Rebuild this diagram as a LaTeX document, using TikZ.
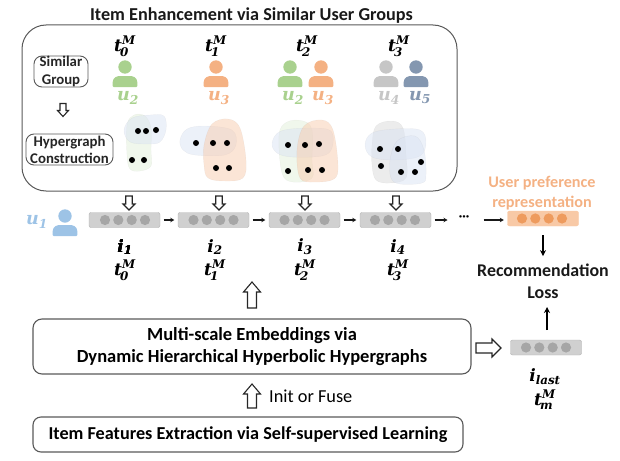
\documentclass[tikz,border=0pt]{standalone}
\usepackage{amsmath}
\usepackage{fontspec}
\setmainfont{Carlito}
\newfontfamily\mi[BoldItalicFont={DejaVu Serif Bold Italic}]{DejaVu Serif}
\usetikzlibrary{arrows.meta}
\definecolor{cgreen}{HTML}{A9D18E}
\definecolor{corange}{HTML}{F4B183}
\definecolor{cgray}{HTML}{C6C6C6}
\definecolor{cslate}{HTML}{8497B0}
\definecolor{clblue}{HTML}{9DC3E6}
\definecolor{bfill}{HTML}{D0D0D0}
\definecolor{bdot}{HTML}{A6A6A6}
\definecolor{frameg}{HTML}{595959}
\definecolor{blobg}{HTML}{E2F0D9}
\definecolor{blobb}{HTML}{DAE3F3}
\definecolor{bloboo}{HTML}{F8CBAD}
\definecolor{blobk}{HTML}{D9D9D9}
\definecolor{obarfill}{HTML}{F8C9A6}
\definecolor{obead}{HTML}{EE9B5E}
\tikzset{
 x=1pt,y=-1pt,
 frame/.style={draw=frameg,line width=0.9pt,rounded corners=#1,inner sep=0pt},
 frame/.default=8pt,
 tag/.style={font=\fontsize{14.8}{15}\selectfont\bfseries,align=center,text=black!85},
 head/.style={font=\fontsize{18.2}{21}\selectfont\bfseries,align=center,text=black!90},
 sym/.style={font=\fontsize{17}{17}\selectfont,inner sep=0pt},
 usr/.style={font=\fontsize{17.5}{17.5}\selectfont,inner sep=0pt},
 barbox/.style={draw=bfill!85!black,line width=0.4pt,fill=bfill,rounded corners=2pt,minimum width=71pt,minimum height=15pt,inner sep=0pt},
 obar/.style={barbox,draw=obarfill,fill=obarfill},
 hollow/.style={draw=black!85,line width=1.1pt,fill=white,line join=miter},
 thin arr/.style={-{Stealth[length=4pt,width=4.5pt]},line width=1.1pt,black!90,shorten >=3.5pt,shorten <=3.5pt},
 thick arr/.style={-{Stealth[length=6pt,width=6pt]},line width=1.4pt,black},
 dot/.style={circle,fill=black,minimum size=6pt,inner sep=0pt},
 gblob/.style={fill=#1,fill opacity=0.5,draw=black,draw opacity=0.04,line width=0.4pt},
}
\newcommand{\person}[3]{%
 \fill[#3] (#1,#2-10) circle[radius=6.7pt];
 \fill[#3,rounded corners=1pt] (#1-12.3,#2+10) -- (#1-12.3,#2+6) .. controls (#1-12.3,#2) and (#1-7,#2-1) .. (#1-4,#2-1) -- (#1+4,#2-1) .. controls (#1+7,#2-1) and (#1+12.3,#2) .. (#1+12.3,#2+6) -- (#1+12.3,#2+10) -- cycle;
}
\newcommand{\beads}[3]{%
 \foreach \dx in {-20,-6.7,6.7,20} \fill[#3] (#1+\dx,#2) circle[radius=5.1pt];
}
% hollow block arrow: centre x, y, angle, length, shaft width, head width, head length
\newcommand{\hollowarrow}[7]{%
 \draw[hollow,shift={(#1,#2)},rotate=#3]
  (-#4/2,-#5/2) -- (#4/2-#7,-#5/2) -- (#4/2-#7,-#6/2) -- (#4/2,0) -- (#4/2-#7,#6/2) -- (#4/2-#7,#5/2) -- (-#4/2,#5/2) -- cycle;
}
\newcommand{\bi}[1]{\text{\mi\bfseries\itshape #1}}
\newcommand{\um}[3]{$\bi{#1}_{\!\bi{#2}}^{\bi{#3}}$}
\newcommand{\us}[2]{$\bi{#1}_{\bi{#2}}$}
\begin{document}
\begin{tikzpicture}
\useasboundingbox (0,0) rectangle (620,460);
% title and top frame
\node[head] (title) at (251.5,16) {Item Enhancement via Similar User Groups};
\draw[frameg,line width=1pt,rounded corners=24pt] (22,25) rectangle (457,191);
\node[frame,tag,minimum width=54pt,minimum height=31pt] (sg) at (61,71.5) {Similar\\[3pt]Group};
\node[frame,tag,minimum width=87pt,minimum height=31pt] (hc) at (69.5,149.5) {Hypergraph\\[2pt]Construction};
\hollowarrow{63}{110}{-90}{13}{6}{11}{6}
% times
\node[sym] (t0) at (125,46) {\um{t}{0}{M}};
\node[sym] (t1) at (216,46) {\um{t}{1}{M}};
\node[sym] (t2) at (307,46) {\um{t}{2}{M}};
\node[sym] (t3) at (399,46) {\um{t}{3}{M}};
% persons
\person{125}{77}{cgreen}
\person{216}{77}{corange}
\person{290}{77}{cgreen}
\person{321}{77}{corange}
\person{386}{77}{cgray}
\person{416}{77}{cslate}
\person{65}{226}{clblue}
\node[usr,text=cgreen] (u2a) at (128,98) {\us{u}{2}};
\node[usr,text=corange] (u3a) at (219,98) {\us{u}{3}};
\node[usr,text=cgreen] (u2b) at (293,98) {\us{u}{2}};
\node[usr,text=corange] (u3b) at (323,98) {\us{u}{3}};
\node[usr,text=cgray] (u4) at (389,98) {\us{u}{4}};
\node[usr,text=cslate] (u5) at (420,98) {\us{u}{5}};
\node[usr,text=clblue] (u1) at (37,222) {\us{u}{1}};
% hypergraph blobs
\path[gblob=blobg] plot[smooth cycle,tension=.6] coordinates {(127,125)(134,115)(145,116)(151,128)(151,150)(151,166)(140,171)(130,169)(127,155)};
\path[gblob=blobb] plot[smooth cycle,tension=.6] coordinates {(124,130)(132,118)(150,115)(164,116)(166,130)(160,142)(148,144)(130,142)};
\path[gblob=blobb] plot[smooth cycle,tension=.6] coordinates {(180,140)(187,129)(205,126)(232,130)(236,145)(225,155)(195,155)(183,150)};
\path[gblob=bloboo] plot[smooth cycle,tension=.6] coordinates {(204,145)(212,124)(228,119)(240,128)(246,160)(243,178)(225,181)(208,178)(204,165)};
\path[gblob=blobg] plot[smooth cycle,tension=.6] coordinates {(279,135)(287,122)(303,121)(312,130)(312,160)(312,178)(293,182)(282,173)};
\path[gblob=blobb] plot[smooth cycle,tension=.6] coordinates {(272,143)(281,131)(310,128)(331,131)(332,148)(322,156)(292,157)(277,153)};
\path[gblob=bloboo] plot[smooth cycle,tension=.6] coordinates {(297,150)(304,126)(322,120)(333,130)(338,165)(334,179)(315,182)(300,178)};
\path[gblob=blobk] plot[smooth cycle,tension=.6] coordinates {(372,145)(376,126)(392,121)(403,128)(406,155)(406,178)(390,183)(376,180)(372,165)};
\path[gblob=blobb] plot[smooth cycle,tension=.6] coordinates {(365,145)(372,133)(395,129)(420,130)(426,142)(420,156)(395,160)(372,157)};
\path[gblob=blobb] plot[smooth cycle,tension=.6] coordinates {(390,160)(397,141)(415,136)(424,150)(426,175)(422,183)(400,184)(391,178)};
\foreach \n/\x/\y in {a/138/131,b/146/131,c/156/130,d/132/160,e/144/160,
  f/196/143,g/213/143,h/227/143,i/216/168,j/229/168,
  k/288/145,l/305/145,m/319/144,n/288/171,o/308/170,p/322/170,
  q/380/149,r/398/149,s/381/166,t/401/172,v/415/172,w/421/162}
  \node[dot] (dot\n) at (\x,\y) {};
% sequence
\node[barbox] (b1) at (124.5,220) {};
\node[barbox] (b2) at (213.5,220) {};
\node[barbox] (b3) at (304.5,220) {};
\node[barbox] (b4) at (395.5,220) {};
\node[obar] (bo) at (543,218.5) {};
\node[barbox] (bl) at (546,347.5) {};
\beads{125}{220}{bdot}
\beads{213.5}{220}{bdot}
\beads{304.5}{220}{bdot}
\beads{395}{220}{bdot}
\beads{542}{218.5}{obead}
\beads{546}{347.5}{bdot}
\node[inner sep=0pt,font=\fontsize{13}{13}\selectfont\bfseries] (ell) at (464,218) {···};
\coordinate (c2) at (451,220);
\coordinate (c3) at (480,220);
\draw[thin arr] (b1) -- (b2);
\draw[thin arr] (b2) -- (b3);
\draw[thin arr] (b3) -- (b4);
\draw[thin arr] (b4) -- (c2);
\draw[thin arr] (c3) -- (c3 -| bo.west);
% hollow down arrows
\foreach \x in {129,219,305,396}
  \hollowarrow{\x}{203}{-90}{14}{6.5}{12}{6}
% labels under beads
\node[sym] (i1) at (125,247) {\us{i}{1}};
\node[sym] (i2) at (215,247) {\us{i}{2}};
\node[sym] (i3) at (305,247) {\us{i}{3}};
\node[sym] (i4) at (398,247) {\us{i}{4}};
\node[sym] (st0) at (125,270) {\um{t}{0}{M}};
\node[sym] (st1) at (215,270) {\um{t}{1}{M}};
\node[sym] (st2) at (305,270) {\um{t}{2}{M}};
\node[sym] (st3) at (398,270) {\um{t}{3}{M}};
% right column
\node[font=\fontsize{16.2}{20}\selectfont\bfseries,text=corange,align=center] (upr) at (542,193) {User preference\\representation};
\node[head,font=\fontsize{17.9}{22}\selectfont\bfseries] (loss) at (543,281) {Recommendation\\Loss};
\draw[thick arr,shorten <=9pt,shorten >=4pt] (bo) -- (loss);
\coordinate (lt) at (547,307);
\coordinate (lb) at (547,340);
\draw[thick arr,shorten <=10pt] (lb) -- (lt);
\node[sym] (il) at (545,377) {\us{i}{last}};
\node[sym] (tm) at (545,400) {\um{t}{m}{M}};
% lower boxes
\node[frame=9pt,minimum width=438pt,minimum height=55pt,font=\fontsize{18.5}{22}\selectfont\bfseries,align=center,line width=1.1pt] (ms) at (252,346.5) {Multi-scale Embeddings via\\Dynamic Hierarchical Hyperbolic Hypergraphs};
\node[frame=8pt,minimum width=430pt,minimum height=35pt,font=\fontsize{18.2}{18}\selectfont\bfseries,line width=1.1pt] (fe) at (248,434.5) {Item Features Extraction via Self-supervised Learning};
\hollowarrow{252}{295}{90}{26}{9}{17}{10}
\hollowarrow{252}{396}{90}{24}{9}{17}{10}
\hollowarrow{488.5}{348}{0}{25}{10}{18}{9}
\node[anchor=west,font=\fontsize{18.3}{18}\selectfont,inner sep=0pt] (init) at (269,396) {Init or Fuse};
\end{tikzpicture}
\end{document}
